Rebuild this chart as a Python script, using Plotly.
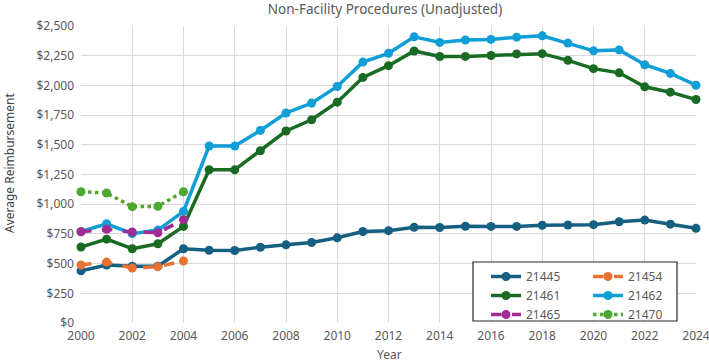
import plotly.graph_objects as go

years = list(range(2000, 2025))
years_early = list(range(2000, 2005))

s21445 = [440, 488, 478, 478, 625, 612, 610, 638, 658, 678, 717, 770, 777, 805, 804, 814, 813, 813, 823, 825, 828, 852, 866, 832, 797]
s21454 = [488, 513, 463, 474, 522]
s21461 = [640, 706, 625, 667, 813, 1290, 1289, 1450, 1616, 1711, 1859, 2067, 2166, 2290, 2243, 2244, 2252, 2265, 2267, 2211, 2141, 2106, 1988, 1943, 1881]
s21462 = [769, 835, 752, 782, 940, 1490, 1489, 1621, 1768, 1851, 1991, 2196, 2270, 2409, 2362, 2382, 2387, 2406, 2417, 2356, 2291, 2299, 2174, 2101, 2001]
s21465 = [768, 789, 766, 760, 870]
s21470 = [1105, 1094, 979, 982, 1105]

W, H = 709, 362
L, R, T, B = 81, 13, 26, 39
pw, ph = W - L - R, H - T - B

def px(x):
    return (x - L) / pw

def py(y):
    return (H - B - y) / ph

series = [
    ("21445", years, s21445, "#156082", "solid", "legend"),
    ("21454", years_early, s21454, "#E97132", "dash", "legend2"),
    ("21461", years, s21461, "#196B24", "solid", "legend"),
    ("21462", years, s21462, "#0F9ED5", "solid", "legend2"),
    ("21465", years_early, s21465, "#A02B93", "dash", "legend"),
    ("21470", years_early, s21470, "#4EA72E", "dot", "legend2"),
]

fig = go.Figure()
for name, xs, ys, col, dash, lg in series:
    fig.add_trace(go.Scatter(
        x=xs, y=ys, name=name, mode="lines+markers",
        line=dict(color=col, width=3.5, dash=dash),
        marker=dict(color=col, size=9),
        cliponaxis=False, legend=lg,
    ))

font = "Noto Sans"
gray = "#595959"

fig.update_layout(
    width=W, height=H,
    margin=dict(l=L, r=R, t=T, b=B, autoexpand=False),
    paper_bgcolor="white", plot_bgcolor="white",
    font=dict(family=font, size=12, color=gray),
    title=dict(text="Non-Facility Procedures (Unadjusted)", xref="container", x=385 / W, xanchor="center",
               y=1 - 9 / H, yanchor="middle", font=dict(size=13.5, color=gray, family=font)),
    xaxis=dict(range=[2000, 2024], dtick=2, tick0=2000, showgrid=True, gridcolor="#d9d9d9",
               gridwidth=1, zeroline=False, showline=False, ticks="", automargin=False,
               ticklabeloverflow="allow", ticklabelstandoff=4,
               tickfont=dict(size=12, color=gray)),
    yaxis=dict(range=[0, 2500], dtick=250, tickprefix="$", tickformat=",", showgrid=True,
               gridcolor="#d9d9d9", gridwidth=1, zeroline=False, showline=False, ticks="",
               ticklabelstandoff=6, automargin=False,
               tickfont=dict(size=12, color=gray)),
    annotations=[
        dict(text="Average Reimbursement", xref="paper", yref="paper",
             x=px(9), y=py(163), xanchor="center", yanchor="middle",
             textangle=-90, showarrow=False, borderpad=0,
             font=dict(size=12, color="#404040", family=font)),
        dict(text="Year", xref="paper", yref="paper",
             x=px(389), y=py(354), xanchor="center", yanchor="middle",
             showarrow=False, borderpad=0, font=dict(size=12, color=gray, family=font)),
    ],
    legend=dict(x=px(486), xanchor="left", y=py(262), yanchor="top", bgcolor="rgba(0,0,0,0)",
                borderwidth=0, font=dict(size=12, color=gray), tracegroupgap=0, itemwidth=30),
    legend2=dict(x=px(588), xanchor="left", y=py(262), yanchor="top", bgcolor="rgba(0,0,0,0)",
                 borderwidth=0, font=dict(size=12, color=gray), tracegroupgap=0, itemwidth=30),
    shapes=[dict(type="rect", xref="paper", yref="paper", x0=px(473), x1=px(677),
                 y0=py(262), y1=py(321), line=dict(color="#262626", width=1.2),
                 fillcolor="white", layer="above")],
)

fig.write_html("out.html")
